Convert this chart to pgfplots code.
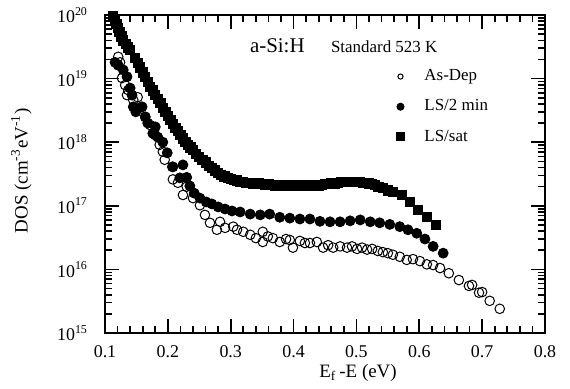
\documentclass[border=0pt]{standalone}
\usepackage{fontspec}
\setmainfont{Liberation Serif}
\usepackage{pgfplots}
\pgfplotsset{compat=1.18}
\begin{document}
\begin{tikzpicture}
\path (-52.5bp,-26bp) rectangle (232.5bp,166.5bp);
\begin{axis}[
  at={(0,0)}, anchor=south west,
  scale only axis, width=220bp, height=159bp,
  xmin=0.1, xmax=0.8, ymode=log, ymin=1e15, ymax=1e20,
  xtick={0.1,0.2,0.3,0.4,0.5,0.6,0.7,0.8},
  xticklabels={0.1,0.2,0.3,0.4,0.5,0.6,0.7,0.8},
  minor x tick num=4,
  ytick={1e15,1e16,1e17,1e18,1e19,1e20},
  minor ytick={2e15,3e15,4e15,5e15,6e15,7e15,8e15,9e15,
               2e16,3e16,4e16,5e16,6e16,7e16,8e16,9e16,
               2e17,3e17,4e17,5e17,6e17,7e17,8e17,9e17,
               2e18,3e18,4e18,5e18,6e18,7e18,8e18,9e18,
               2e19,3e19,4e19,5e19,6e19,7e19,8e19,9e19},
  yticklabels={10\textsuperscript{15},10\textsuperscript{16},10\textsuperscript{17},10\textsuperscript{18},10\textsuperscript{19},10\textsuperscript{20}},
  tick align=inside,
  major tick length=7bp, minor tick length=3.5bp,
  every tick/.style={line width=0.8bp, black},
  axis line style={line width=1bp},
  ticklabel style={font=\fontsize{9}{10}\selectfont},
  xticklabel style={yshift=-3bp},
  yticklabel style={xshift=-5bp},
  xlabel={E\textsubscript{f}\,-E (eV)},
  xlabel style={at={(axis description cs:0.575,-0.14)}, anchor=base, font=\fontsize{9.5}{11}\selectfont},
  ylabel={DOS (cm\textsuperscript{-3}eV\textsuperscript{-1})},
  ylabel style={at={(axis description cs:-0.19,0.51)}, anchor=center, font=\fontsize{9.5}{11}\selectfont},
  legend style={draw=none, fill=none, at={(rel axis cs:0.648,0.855)}, anchor=north west,
     font=\fontsize{8.5}{10}\selectfont, row sep=4bp,
     /tikz/every odd column/.append style={column sep=8bp}},
  legend cell align=left,
  legend image code/.code={\draw[#1] plot coordinates {(0bp,0bp)};},
]
\addplot[only marks, mark=o, mark size=2.4bp, mark options={fill=white, line width=0.5bp}, legend image post style={mark size=1.3bp}] coordinates {
(0.121,2.2e19)(0.124,1.8e19)(0.127,1.02e19)(0.132,7.9e18)(0.137,6.6e18)(0.135,5.5e18)
(0.145,4.6e18)(0.152,5.1e18)(0.156,3.5e18)(0.164,2.5e18)(0.172,1.86e18)(0.180,1.29e18)
(0.187,9.1e17)(0.192,7.1e17)(0.195,5.3e17)(0.207,4.1e17)(0.208,2.6e17)(0.216,2.3e17)
(0.224,1.48e17)(0.230,2.0e17)(0.240,1.32e17)(0.251,1.02e17)(0.259,7.2e16)(0.267,5.4e16)
(0.278,4.2e16)(0.283,5.6e16)(0.291,4.5e16)(0.304,4.7e16)(0.310,4.2e16)(0.320,3.9e16)
(0.331,3.5e16)(0.340,3.1e16)(0.351,2.7e16)(0.351,3.9e16)(0.359,3.3e16)(0.367,3.1e16)
(0.378,2.7e16)(0.388,3.0e16)(0.394,2.9e16)(0.399,2.2e16)(0.410,2.8e16)(0.418,2.6e16)
(0.426,2.6e16)(0.437,2.7e16)(0.447,2.2e16)(0.455,2.4e16)(0.463,2.2e16)(0.474,2.3e16)
(0.485,2.2e16)(0.493,2.3e16)(0.501,2.1e16)(0.509,2.2e16)(0.517,2.05e16)(0.525,2.1e16)
(0.534,1.95e16)(0.542,1.87e16)(0.550,1.8e16)(0.558,1.7e16)(0.569,1.58e16)(0.580,1.41e16)
(0.590,1.45e16)(0.601,1.35e16)(0.612,1.2e16)(0.622,1.17e16)(0.633,1.05e16)(0.647,8.7e15)
(0.663,6.8e15)(0.679,5.5e15)(0.684,5.7e15)(0.695,4.3e15)(0.700,4.4e15)(0.712,3.2e15)
(0.728,2.4e15)
};
\addlegendentry{As-Dep}
\addplot[only marks, mark=*, mark size=2.5bp, mark options={fill=black, draw=black}, legend image post style={mark size=1.8bp}] coordinates {
(0.116,1.8e19)(0.121,1.62e19)(0.129,1.37e19)(0.135,1.07e19)(0.140,7.1e18)(0.143,5.5e18)
(0.145,3.6e18)(0.149,3.0e18)(0.159,3.6e18)(0.164,2.5e18)(0.168,2.0e18)(0.176,1.38e18)
(0.180,1.74e18)(0.184,1.2e18)(0.192,1.0e18)(0.199,6.8e17)(0.208,4.1e17)(0.219,2.75e17)
(0.224,4.4e17)(0.230,2.8e17)(0.235,2.05e17)(0.242,1.58e17)(0.251,1.32e17)(0.261,1.15e17)
(0.270,1.07e17)(0.280,9.6e16)(0.291,8.9e16)(0.302,8.3e16)(0.315,8.0e16)(0.331,7.4e16)
(0.347,7.2e16)(0.362,7.4e16)(0.378,6.6e16)(0.394,6.4e16)(0.410,6.2e16)(0.426,6.2e16)
(0.442,5.7e16)(0.458,5.6e16)(0.474,5.6e16)(0.490,5.8e16)(0.506,6.0e16)(0.522,5.6e16)
(0.537,5.4e16)(0.553,5.1e16)(0.569,4.7e16)(0.582,4.2e16)(0.596,3.7e16)(0.609,3.0e16)
(0.622,2.3e16)(0.638,1.8e16)
};
\addlegendentry{LS/2 min}
\addplot[only marks, mark=square*, mark size=2.3bp, mark options={fill=black, draw=black}, legend image post style={mark size=2bp}] coordinates {
(0.113,9.6e19)(0.116,8.5e19)(0.118,7.3e19)(0.120,6.3e19)(0.123,5.4e19)(0.126,4.6e19)
(0.129,4.0e19)(0.133,3.5e19)(0.137,3.1e19)(0.140,2.8e19)(0.147,2.1e19)(0.152,1.75e19)
(0.156,1.5e19)(0.160,1.25e19)(0.164,1.05e19)(0.168,8.8e18)(0.172,7.5e18)(0.176,6.5e18)
(0.180,5.6e18)(0.184,4.8e18)(0.188,4.1e18)(0.192,3.5e18)(0.196,3.0e18)(0.200,2.6e18)
(0.204,2.25e18)(0.208,1.95e18)(0.212,1.7e18)(0.216,1.5e18)(0.220,1.3e18)(0.224,1.15e18)
(0.228,1.02e18)(0.232,9.2e17)(0.236,8.3e17)(0.240,7.5e17)(0.245,6.6e17)(0.250,5.9e17)
(0.255,5.3e17)(0.260,4.8e17)(0.265,4.3e17)(0.270,3.9e17)(0.275,3.6e17)(0.280,3.3e17)
(0.285,3.1e17)(0.290,2.9e17)(0.295,2.75e17)(0.300,2.65e17)(0.305,2.55e17)(0.310,2.5e17)
(0.315,2.4e17)(0.320,2.35e17)(0.325,2.3e17)(0.330,2.3e17)(0.335,2.25e17)(0.340,2.2e17)
(0.345,2.25e17)(0.350,2.2e17)(0.355,2.15e17)(0.360,2.2e17)(0.365,2.15e17)(0.370,2.1e17)
(0.375,2.15e17)(0.380,2.1e17)(0.385,2.05e17)(0.390,2.1e17)(0.395,2.1e17)(0.400,2.05e17)
(0.405,2.1e17)(0.410,2.05e17)(0.415,2.1e17)(0.420,2.15e17)(0.425,2.1e17)(0.430,2.1e17)
(0.435,2.15e17)(0.440,2.1e17)(0.445,2.15e17)(0.450,2.2e17)(0.455,2.2e17)(0.460,2.25e17)
(0.465,2.2e17)(0.470,2.3e17)(0.475,2.35e17)(0.480,2.35e17)(0.485,2.4e17)(0.490,2.4e17)
(0.495,2.35e17)(0.500,2.4e17)(0.505,2.35e17)(0.510,2.3e17)(0.515,2.3e17)(0.520,2.25e17)
(0.525,2.2e17)(0.530,2.15e17)(0.535,2.0e17)(0.542,1.9e17)(0.550,1.75e17)(0.558,1.66e17)
(0.572,1.48e17)(0.585,1.15e17)(0.598,8.5e16)(0.612,6.6e16)(0.627,5.0e16)
};
\addlegendentry{LS/sat}
\node[anchor=base west, font=\fontsize{10.5}{12}\selectfont] at (rel axis cs:0.3136,0.8805) {a-Si:H};
\node[anchor=base west, font=\fontsize{8.5}{10}\selectfont] at (rel axis cs:0.4977,0.8836) {Standard 523 K};
\end{axis}
\end{tikzpicture}
\end{document}
